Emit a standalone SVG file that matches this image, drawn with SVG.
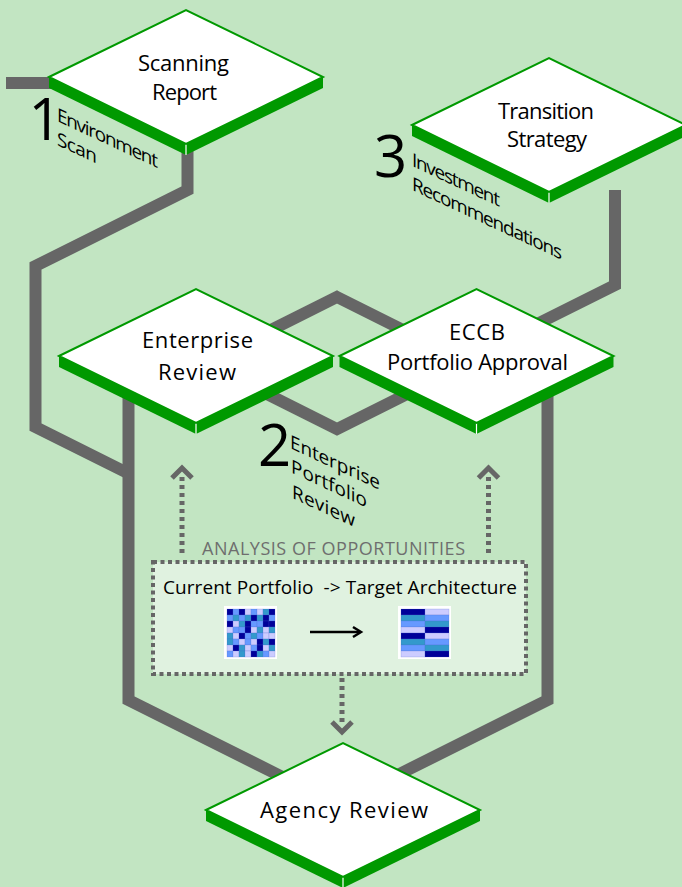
<svg xmlns="http://www.w3.org/2000/svg" xmlns:xlink="http://www.w3.org/1999/xlink" width="682" height="887" viewBox="0 0 682 887">
<style>
.bg{fill:#c2e5c2}
.conn{fill:none;stroke:#666666;stroke-width:12;stroke-linejoin:miter;stroke-linecap:butt}
.dots{fill:none;stroke:#666666;stroke-width:5;stroke-dasharray:4 4}
.chev{fill:none;stroke:#666666;stroke-width:5;stroke-linejoin:miter}
.top{fill:#ffffff;stroke:#009900;stroke-width:2;stroke-linejoin:miter}
.side{fill:#009900}
.div{stroke:#ffffff;stroke-width:1.2}
.lbl{font-family:"Open Sans","Noto Sans","DejaVu Sans",sans-serif;font-size:22px;fill:#000000;text-anchor:middle}
.step{font-family:"Open Sans","Noto Sans","DejaVu Sans",sans-serif;font-size:19px;fill:#000000}
.num{font-family:"Open Sans","Noto Sans","DejaVu Sans",sans-serif;font-size:58px;fill:#000000;text-anchor:middle}
.ana{font-family:"Open Sans","Noto Sans","DejaVu Sans",sans-serif;font-size:18px;fill:#6e6e6e;text-anchor:middle}
.cur{font-family:"Open Sans","Noto Sans","DejaVu Sans",sans-serif;font-size:19px;fill:#000000}
.n{fill:#000099}.b{fill:#6699ff}.t{fill:#3399cc}.l{fill:#ccccff}
.cells rect{stroke:#4d66cc;stroke-width:0.4;stroke-opacity:0.5}
</style>
<defs>
<g id="slab">
<path class="side" d="M-137,0 L0,67 L0,78 L-137,11 Z"/>
<path class="side" d="M0,67 L137,0 L137,11 L0,78 Z"/>
<line class="div" x1="0" y1="67" x2="0" y2="78"/>
<path class="top" d="M-137,0 L0,-67 L137,0 L0,67 Z"/>
</g>
</defs>
<rect class="bg" x="0" y="0" width="682" height="887"/>

<g id="connectors">
<path class="conn" d="M6,83 H62"/>
<path class="conn" d="M187.5,140 V190 L35.5,266 V427 L128.5,473.5"/>
<path class="conn" d="M128.5,380 V700 L290,780.75"/>
<path class="conn" d="M337,297 L469,363 L337,429 L205,363 Z"/>
<path class="conn" d="M615,190 V285 L520,332.5"/>
<path class="conn" d="M547.5,380 V700 L390,778.75"/>
<path class="dots" d="M182,553 V474"/>
<path class="chev" d="M172,478 L182,468 L192,478"/>
<path class="dots" d="M488.5,553 V474"/>
<path class="chev" d="M478.5,478 L488.5,468 L498.5,478"/>
<path class="dots" d="M342,678 V724"/>
<path class="chev" d="M332,722 L342,732 L352,722"/>
</g>

<g id="scanning-report">
<use xlink:href="#slab" x="186" y="77"/>
<text class="lbl" x="183.5" y="71" textLength="91">Scanning</text>
<text class="lbl" x="184.5" y="100" textLength="65">Report</text>
</g>

<g id="transition-strategy">
<use xlink:href="#slab" x="549" y="125"/>
<text class="lbl" x="546" y="119" textLength="96">Transition</text>
<text class="lbl" x="547" y="147" textLength="80">Strategy</text>
</g>

<g id="enterprise-review">
<use xlink:href="#slab" x="196" y="356"/>
<text class="lbl" x="197.5" y="348" textLength="111">Enterprise</text>
<text class="lbl" x="197" y="380" textLength="78">Review</text>
</g>

<g id="eccb-portfolio-approval">
<use xlink:href="#slab" x="476.5" y="356"/>
<text class="lbl" x="477" y="340" textLength="56">ECCB</text>
<text class="lbl" x="477.5" y="370" textLength="181">Portfolio Approval</text>
</g>

<g id="agency-review">
<use xlink:href="#slab" x="343" y="810"/>
<text class="lbl" x="344" y="818" textLength="168">Agency Review</text>
</g>

<g id="step-1">
<text class="num" x="45" y="140">1</text>
<g transform="translate(57,121) skewY(25)">
<text class="step" x="0" y="0" textLength="101">Environment</text>
<text class="step" x="0" y="24" textLength="40">Scan</text>
</g>
</g>

<g id="step-2">
<text class="num" x="274.5" y="466">2</text>
<g transform="translate(290,448) skewY(25)">
<text class="step" x="0" y="0" textLength="90">Enterprise</text>
<text class="step" x="1" y="24" textLength="76">Portfolio</text>
<text class="step" x="2" y="49" textLength="63">Review</text>
</g>
</g>

<g id="step-3">
<text class="num" x="390.5" y="177">3</text>
<g transform="translate(412,166) skewY(25)">
<text class="step" x="0" y="0" textLength="88">Investment</text>
<text class="step" x="0" y="24" textLength="150">Recommendations</text>
</g>
</g>

<g id="analysis-of-opportunities">
<text class="ana" x="333.5" y="555" textLength="263">ANALYSIS OF OPPORTUNITIES</text>
<rect x="153" y="562" width="373" height="112" fill="#e0f2e0" stroke="#666666" stroke-width="4" stroke-dasharray="4 3.5"/>
<text class="cur" x="163" y="594" textLength="354" xml:space="preserve">Current Portfolio  -&gt; Target Architecture</text>
<rect x="224" y="606" width="53" height="53" fill="#ffffff"/>
<g class="cells" transform="translate(227,609)">
<rect class="n" x="0" y="0" width="6" height="6"/><rect class="b" x="6" y="0" width="6" height="6"/><rect class="n" x="12" y="0" width="6" height="6"/><rect class="l" x="18" y="0" width="6" height="6"/><rect class="b" x="24" y="0" width="6" height="6"/><rect class="l" x="30" y="0" width="6" height="6"/><rect class="t" x="36" y="0" width="6" height="6"/><rect class="n" x="42" y="0" width="6" height="6"/>
<rect class="b" x="0" y="6" width="6" height="6"/><rect class="t" x="6" y="6" width="6" height="6"/><rect class="b" x="12" y="6" width="6" height="6"/><rect class="t" x="18" y="6" width="6" height="6"/><rect class="n" x="24" y="6" width="6" height="6"/><rect class="t" x="30" y="6" width="6" height="6"/><rect class="n" x="36" y="6" width="6" height="6"/><rect class="b" x="42" y="6" width="6" height="6"/>
<rect class="n" x="0" y="12" width="6" height="6"/><rect class="l" x="6" y="12" width="6" height="6"/><rect class="t" x="12" y="12" width="6" height="6"/><rect class="n" x="18" y="12" width="6" height="6"/><rect class="b" x="24" y="12" width="6" height="6"/><rect class="b" x="30" y="12" width="6" height="6"/><rect class="n" x="36" y="12" width="6" height="6"/><rect class="n" x="42" y="12" width="6" height="6"/>
<rect class="l" x="0" y="18" width="6" height="6"/><rect class="b" x="6" y="18" width="6" height="6"/><rect class="b" x="12" y="18" width="6" height="6"/><rect class="n" x="18" y="18" width="6" height="6"/><rect class="l" x="24" y="18" width="6" height="6"/><rect class="t" x="30" y="18" width="6" height="6"/><rect class="l" x="36" y="18" width="6" height="6"/><rect class="t" x="42" y="18" width="6" height="6"/>
<rect class="t" x="0" y="24" width="6" height="6"/><rect class="l" x="6" y="24" width="6" height="6"/><rect class="n" x="12" y="24" width="6" height="6"/><rect class="b" x="18" y="24" width="6" height="6"/><rect class="t" x="24" y="24" width="6" height="6"/><rect class="b" x="30" y="24" width="6" height="6"/><rect class="l" x="36" y="24" width="6" height="6"/><rect class="l" x="42" y="24" width="6" height="6"/>
<rect class="t" x="0" y="30" width="6" height="6"/><rect class="b" x="6" y="30" width="6" height="6"/><rect class="l" x="12" y="30" width="6" height="6"/><rect class="b" x="18" y="30" width="6" height="6"/><rect class="l" x="24" y="30" width="6" height="6"/><rect class="n" x="30" y="30" width="6" height="6"/><rect class="t" x="36" y="30" width="6" height="6"/><rect class="n" x="42" y="30" width="6" height="6"/>
<rect class="l" x="0" y="36" width="6" height="6"/><rect class="n" x="6" y="36" width="6" height="6"/><rect class="t" x="12" y="36" width="6" height="6"/><rect class="l" x="18" y="36" width="6" height="6"/><rect class="b" x="24" y="36" width="6" height="6"/><rect class="n" x="30" y="36" width="6" height="6"/><rect class="l" x="36" y="36" width="6" height="6"/><rect class="t" x="42" y="36" width="6" height="6"/>
<rect class="b" x="0" y="42" width="6" height="6"/><rect class="l" x="6" y="42" width="6" height="6"/><rect class="t" x="12" y="42" width="6" height="6"/><rect class="l" x="18" y="42" width="6" height="6"/><rect class="n" x="24" y="42" width="6" height="6"/><rect class="t" x="30" y="42" width="6" height="6"/><rect class="b" x="36" y="42" width="6" height="6"/><rect class="l" x="42" y="42" width="6" height="6"/>
</g>
<path d="M310,632 H359" fill="none" stroke="#000000" stroke-width="2.5"/>
<path d="M353,627 L361,632 L353,637" fill="none" stroke="#000000" stroke-width="2.5"/>
<rect x="398" y="606" width="53" height="53" fill="#ffffff"/>
<g class="cells" transform="translate(401,609)">
<rect class="n" x="0" y="0" width="24" height="6"/><rect class="l" x="24" y="0" width="24" height="6"/>
<rect class="t" x="0" y="6" width="24" height="6"/><rect class="b" x="24" y="6" width="24" height="6"/>
<rect class="b" x="0" y="12" width="24" height="6"/><rect class="t" x="24" y="12" width="24" height="6"/>
<rect class="l" x="0" y="18" width="24" height="6"/><rect class="n" x="24" y="18" width="24" height="6"/>
<rect class="n" x="0" y="24" width="24" height="6"/><rect class="l" x="24" y="24" width="24" height="6"/>
<rect class="t" x="0" y="30" width="24" height="6"/><rect class="b" x="24" y="30" width="24" height="6"/>
<rect class="b" x="0" y="36" width="24" height="6"/><rect class="t" x="24" y="36" width="24" height="6"/>
<rect class="l" x="0" y="42" width="24" height="6"/><rect class="n" x="24" y="42" width="24" height="6"/>
</g>
</g>
</svg>
